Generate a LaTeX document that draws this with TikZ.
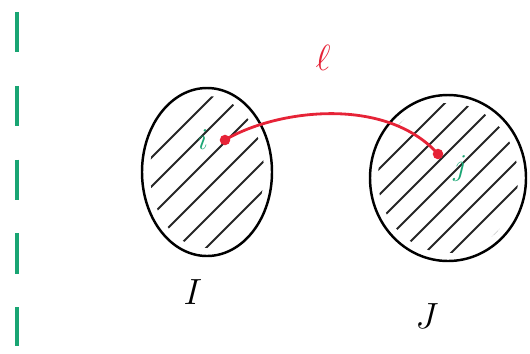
\documentclass[tikz,border=0pt]{standalone}
\usepackage{tikz}
\usetikzlibrary{positioning}

\definecolor{handgreen}{RGB}{25,165,115}
\definecolor{handred}{RGB}{230,35,55}

\tikzset{
    setline/.style={line width=1.4pt, black},
    hatchline/.style={line width=1.1pt, black!85},
    pathline/.style={line width=1.6pt, handred},
    wallline/.style={line width=1.8pt, handgreen, dash pattern=on 23pt off 19pt},
    spot/.style={circle, fill=handred, inner sep=0pt, minimum size=6pt},
}

\begin{document}
\begin{tikzpicture}[x=0.02cm, y=-0.02cm]
    \useasboundingbox (0,0) rectangle (530,353);

    % --- LEFT: DASHED WALL ---
    \draw[wallline] (17,12) -- (17,346);

    % --- SET I ---
    \begin{scope}
        \clip (207,172) ellipse [x radius=57, y radius=76];
        \foreach \k in {-3,...,4}
            \draw[hatchline] (207+\k*29-12-110,172+110) -- (207+\k*29-12+110,172-110);
    \end{scope}
    \draw[setline] (207,172) ellipse [x radius=65, y radius=84];
    \node (I) at (193,292) {\huge $I$};

    % --- SET J ---
    \begin{scope}
        \clip (448,178) ellipse [x radius=70, y radius=75];
        \foreach \k in {-4,...,5}
            \draw[hatchline] (448+\k*26-110,178+110) -- (448+\k*26+110,178-110);
    \end{scope}
    \draw[setline] (448,178) ellipse [x radius=78, y radius=83];
    \node (J) at (427,316) {\huge $J$};

    % --- PATH ELL ---
    \node[spot] (pi) at (225,140) {};
    \node[spot] (pj) at (438,154) {};
    \draw[pathline] (pi.center) .. controls (275,110) and (385,95) .. (pj.center);
    \node[text=handred] (ell) at (323,58) {\huge $\ell$};

    \node[text=handgreen] (i) at (203,140) {\LARGE $i$};
    \node[text=handgreen] (j) at (460,168) {\LARGE $j$};
\end{tikzpicture}
\end{document}
